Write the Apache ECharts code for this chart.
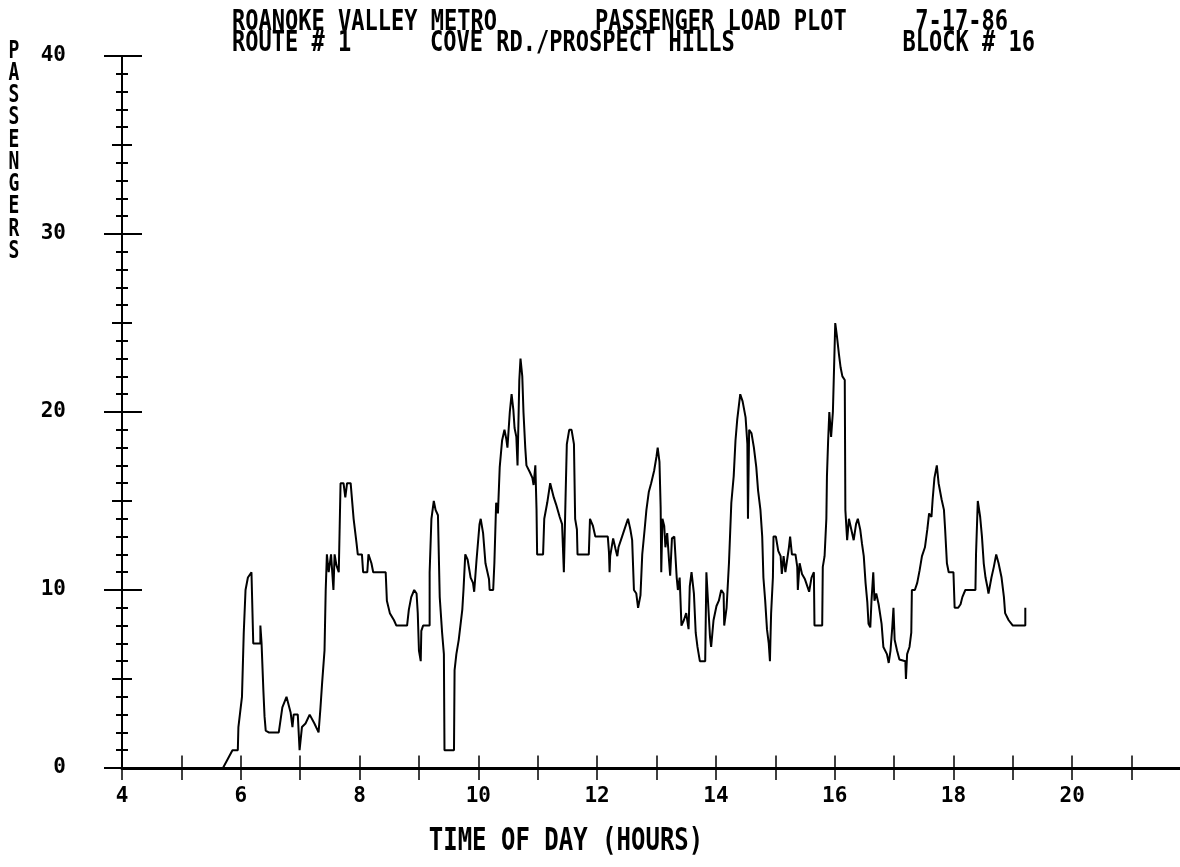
<!DOCTYPE html>
<html>
<head>
<meta charset="utf-8">
<script src="https://cdn.jsdelivr.net/npm/echarts@6/dist/echarts.min.js"></script>
<style>
  html, body { margin: 0; padding: 0; background: #fff; }
  #chart { width: 1180px; height: 867px; }
</style>
</head>
<body>
<div id="chart"></div>
<script>
  // passenger load, [hour of day, passengers]
  const earlyRun = [
    [5.70,0],[5.86,1],[5.95,1],[5.96,2.3],[6.02,4],[6.05,7.6],[6.08,10],[6.12,10.7],[6.18,11],[6.21,11],
    [6.21,7],[6.33,7],[6.33,8],[6.35,8],[6.35,7],[6.38,4.4],[6.40,2.9],[6.42,2.1],[6.47,2],[6.64,2],
    [6.70,3.4],[6.77,4],[6.84,3.1],[6.87,2.3],[6.89,3],[6.96,3],[6.99,1],[7.03,2.3],[7.09,2.5],[7.16,3],
    [7.24,2.5],[7.31,2],[7.34,3.3],[7.37,4.8],[7.41,6.6],[7.43,10],[7.45,12],[7.48,11],[7.52,12],[7.56,10],
    [7.58,12],[7.61,11.4],[7.65,11],[7.68,11],[7.68,16],[7.73,16],[7.76,15.2],[7.79,16],[7.85,16],[7.90,14],
    [7.95,12.6],[7.97,12]
  ];
  const morning = [
    [8.04,12],[8.06,11],[8.13,11],[8.15,12],[8.20,11.5],[8.23,11],[8.44,11],[8.46,9.4],[8.51,8.7],[8.58,8.3],
    [8.62,8],[8.80,8],[8.83,8.9],[8.87,9.6],[8.92,10],[8.96,9.8],[8.98,8.7],[9.00,6.6],[9.03,6],[9.04,7.7],
    [9.07,8],[9.18,8],[9.18,11],[9.21,14],[9.25,15],[9.28,14.5],[9.32,14.2],[9.35,9.6],[9.39,7.6],[9.42,6.4],
    [9.43,1],[9.59,1],[9.60,5.5],[9.63,6.4],[9.67,7.2],[9.73,8.9],[9.75,10],[9.78,12],[9.82,11.7],[9.87,10.7],
    [9.91,10.4],[9.93,9.9],[9.97,11.7]
  ];
  const midday = [
    [10.02,13.7],[10.04,14],[10.08,13.2],[10.12,11.5],[10.18,10.6],[10.19,10],[10.25,10],[10.27,11.5],[10.30,14.9],[10.33,14.3],
    [10.36,16.9],[10.40,18.4],[10.44,19],[10.47,18.5],[10.49,18],[10.53,20],[10.56,21],[10.59,20.1],[10.61,19.1],[10.64,18.6],
    [10.66,17],[10.69,21.8],[10.71,23],[10.74,22],[10.76,20],[10.79,18],[10.81,17],[10.87,16.6],[10.91,16.3],[10.93,15.9],
    [10.96,17],[10.98,14.5],[10.99,12],[11.09,12],[11.11,14],[11.16,14.9],[11.21,16],[11.27,15.2],[11.31,14.8],[11.37,14.1],
    [11.41,13.7],[11.44,11],[11.47,15.4],[11.49,18.2],[11.53,19],[11.57,19],[11.61,18.2],[11.63,14],[11.66,13.4],[11.67,12],
    [11.86,12],[11.88,14],[11.93,13.6],[11.97,13]
  ];
  const earlyAfternoon = [
    [12.18,13],[12.20,12.1],[12.21,11],[12.22,11.9],[12.27,12.9],[12.31,12.3],[12.34,11.9],[12.36,12.4],[12.42,13],[12.48,13.6],
    [12.52,14],[12.56,13.4],[12.59,12.8],[12.62,10],[12.66,9.8],[12.69,9],[12.73,9.7],[12.76,12],[12.80,13.4],[12.83,14.5],
    [12.87,15.5],[12.91,16],[12.94,16],[12.96,16.7],[13.00,17.5],[13.02,18],[13.05,17.2],[13.07,14.6],[13.08,11],[13.10,14],
    [13.13,13.6],[13.15,12.4],[13.18,13.2],[13.21,11.7],[13.23,10.8],[13.26,12.9],[13.30,13],[13.34,10.7],[13.36,10],[13.39,10.7],
    [13.42,8],[13.46,8.3],[13.50,8.7],[13.54,7.8],[13.56,10.2],[13.59,11],[13.63,9.8],[13.66,7.6],[13.69,6.8],[13.73,6],
    [13.82,6],[13.84,11],[13.86,9.8],[13.90,7.4],[13.92,6.8],[13.96,8.3],[14.01,9.1],[14.05,9.4],[14.09,10],[14.13,9.8],
    [14.14,8],[14.18,9],[14.22,11.5],[14.26,14.9],[14.30,16.4],[14.33,18.4],[14.36,19.6],[14.41,21],[14.45,20.6],[14.50,19.7],
    [14.53,18.2],[14.54,14],[14.56,19],[14.60,18.8],[14.64,18],[14.68,16.9],[14.71,15.6],[14.75,14.5],[14.78,13],[14.80,10.7],
    [14.83,9.4],[14.86,7.8],[14.89,7],[14.91,6],[14.92,7.4],[14.93,8.7],[14.96,10.7],[14.97,13]
  ];
  const lateAfternoon = [
    [15.01,13],[15.05,12.2],[15.09,11.9],[15.11,10.9],[15.14,11.9],[15.17,11],[15.20,11.7],[15.23,12.4],[15.25,13],[15.28,12],
    [15.34,12],[15.37,11.3],[15.38,10],[15.41,11.5],[15.45,10.9],[15.50,10.6],[15.54,10.2],[15.57,9.9],[15.61,10.7],[15.65,11],
    [15.66,8],[15.79,8],[15.80,11.3],[15.83,11.9],[15.86,14],[15.87,16.4],[15.89,18.4],[15.91,20],[15.94,18.6],[15.97,20],
    [16.00,20],[16.01,25],[16.04,24.2],[16.07,23.3],[16.10,22.5],[16.13,22],[16.17,21.8],[16.18,14.5],[16.21,12.8],[16.24,14],
    [16.28,13.4],[16.32,12.8],[16.36,13.7],[16.39,14],[16.43,13.4],[16.46,12.6],[16.49,11.9],[16.52,10.4],[16.55,9.3],[16.57,8.1],
    [16.60,7.9],[16.62,9.4],[16.65,11],[16.67,9.4],[16.70,9.8],[16.74,9.2],[16.79,8.1],[16.82,6.8],[16.88,6.4],[16.91,5.9],
    [16.94,6.6],[16.97,7.9],[16.99,9]
  ];
  const evening = [
    [17.01,7.2],[17.05,6.6],[17.09,6.1],[17.12,6],[17.19,6],[17.20,5],[17.22,6.4],[17.26,6.8],[17.29,7.6],[17.30,10],
    [17.35,10],[17.39,10.4],[17.43,11.1],[17.47,11.9],[17.52,12.4],[17.56,13.4],[17.59,14.3],[17.63,14.1],[17.65,15.1],[17.68,16.3],
    [17.72,17],[17.75,16],[17.80,15.1],[17.84,14.5],[17.86,13.4],[17.89,11.5],[17.92,11],[18.00,11],[18.02,9],[18.08,9],
    [18.12,9.2],[18.15,9.6],[18.20,10],[18.37,10],[18.38,12],[18.41,15],[18.45,14.1],[18.48,13],[18.51,11.5],[18.54,10.7],
    [18.57,10.2],[18.59,9.8],[18.64,10.7],[18.68,11.3],[18.72,12],[18.76,11.5],[18.81,10.7],[18.85,9.6],[18.87,8.7],[18.93,8.3],
    [19.00,8],[19.21,8],[19.21,9]
  ];

  const hourTicks = [5, 6, 7, 8, 9, 10, 11, 12, 13, 14, 15, 16, 17, 18, 19, 20, 21];
  const titleLine1 = ['ROANOKE VALLEY METRO', 'PASSENGER LOAD PLOT', '7-17-86'];
  const titleLine2 = ['ROUTE # 1', 'COVE RD./PROSPECT HILLS', 'BLOCK # 16'];
  const xName = 'TIME OF DAY (HOURS)';
  const yName = 'PASSENGERS';

  const loadData = [].concat(earlyRun, morning, midday, earlyAfternoon, lateAfternoon, evening);

  const FONT = '"DejaVu Sans Mono", "Liberation Mono", monospace';
  const myChart = echarts.init(document.getElementById('chart'));

  function yAx (interval, inside, len, minor, showLabel) {
    return {
      type: 'value', position: 'left', min: 0, max: 40, interval: interval,
      axisLine: { show: true, lineStyle: { color: '#000', width: 2 } },
      axisTick: { show: true, inside: inside, length: len, lineStyle: { color: '#000', width: 2 } },
      minorTick: { show: minor, splitNumber: 10, length: 6, lineStyle: { color: '#000', width: 2 } },
      axisLabel: {
        show: showLabel, margin: 56, color: '#000',
        fontFamily: FONT, fontSize: 21, fontWeight: 'bold'
      },
      splitLine: { show: false }
    };
  }

  function txt (s, x, y, size, align, sy) {
    return {
      type: 'text', x: x, y: y, scaleY: sy || 1.3,
      style: {
        text: s, fill: '#000', fontFamily: FONT, fontSize: size, fontWeight: 'bold',
        align: align || 'left', verticalAlign: 'middle'
      }
    };
  }

  // upper half of each hour tick, drawn in data units on the time axis
  const tickUps = hourTicks.map(function (h) {
    return [{ coord: [h, 0] }, { coord: [h, 0.7] }];
  });

  let option = {
    backgroundColor: '#fff',
    animation: false,
    grid: { left: 122, right: -11, top: 56, bottom: 99, outerBoundsMode: 'none' },
    xAxis: {
      type: 'value', position: 'bottom', min: 4, max: 22, interval: 1,
      axisLine: { show: true, onZero: false, lineStyle: { color: '#000', width: 3 } },
      axisTick: { show: true, length: 12, lineStyle: { color: '#000', width: 1.5 } },
      axisLabel: {
        margin: 18, color: '#000', fontFamily: FONT, fontSize: 21, fontWeight: 'bold',
        formatter: function (v) { return (v % 2 === 0 && v <= 20) ? String(v) : ''; }
      },
      splitLine: { show: false }
    },
    yAxis: [
      yAx(10, false, 18, true, true),
      yAx(10, true, 20, true, false),
      yAx(5, false, 10, false, false),
      yAx(5, true, 10, false, false)
    ],
    graphic: [
      txt(titleLine1[0], 232, 23, 22),
      txt(titleLine1[1], 595, 23, 22),
      txt(titleLine1[2], 1008, 23, 22, 'right'),
      txt(titleLine2[0], 232, 44, 22),
      txt(titleLine2[1], 430, 44, 22),
      txt(titleLine2[2], 1035, 44, 22, 'right'),
      txt(xName, 566, 842, 24, 'center'),
      {
        type: 'text', x: 14, y: 40, scaleY: 1.39,
        style: {
          text: yName.split('').join('\n'), fill: '#000', fontFamily: FONT,
          fontSize: 18, fontWeight: 'bold', lineHeight: 16, align: 'center', verticalAlign: 'top'
        }
      }
    ],
    series: [
      {
        name: 'load',
        type: 'line',
        data: loadData,
        showSymbol: false,
        lineStyle: { color: '#000', width: 2 },
        markLine: {
          silent: true,
          symbol: ['none', 'none'],
          label: { show: false },
          lineStyle: { color: '#000', width: 1.5, type: 'solid' },
          data: tickUps
        }
      }
    ]
  };
  myChart.setOption(option);
</script>
</body>
</html>
